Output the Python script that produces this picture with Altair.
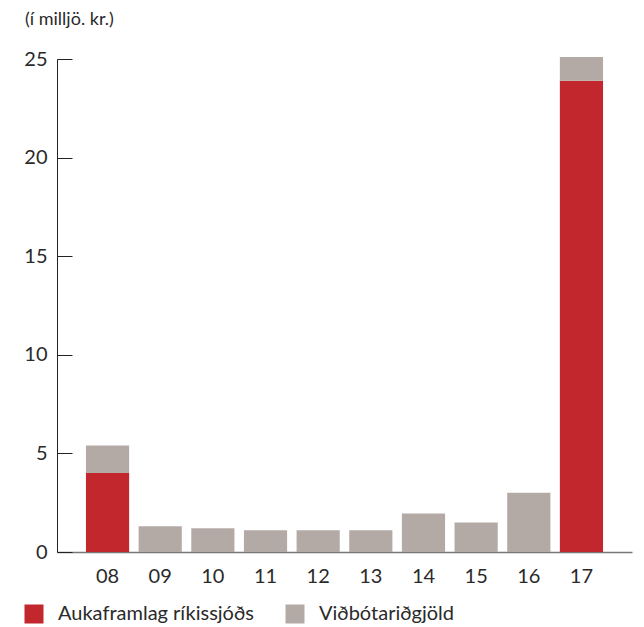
import altair as alt
import pandas as pd

years = ["08", "09", "10", "11", "12", "13", "14", "15", "16", "17"]
red_vals = [4.0, 0, 0, 0, 0, 0, 0, 0, 0, 23.9]
grey_vals = [1.4, 1.3, 1.2, 1.1, 1.1, 1.1, 1.95, 1.5, 3.0, 1.2]
series = ["Aukaframlag ríkissjóðs", "Viðbótariðgjöld"]
colors = ["#c1272d", "#b4aaa5"]
unit_label = "(í milljö. kr.)"

rows = []
for y, r, g in zip(years, red_vals, grey_vals):
    rows.append({"ar": y, "flokkur": series[0], "gildi": r, "rod": 0})
    rows.append({"ar": y, "flokkur": series[1], "gildi": g, "rod": 1})
df = pd.DataFrame(rows)

FONT = "Lato"
TXT = "#2a2a2a"

bars = alt.Chart(df).mark_bar().encode(
    x=alt.X("ar:N", sort=years, title=None,
            scale=alt.Scale(paddingInner=0.18, paddingOuter=0.55),
            axis=alt.Axis(labelAngle=0, ticks=False, domainColor="#777777",
                          domainWidth=1.5, labelFontSize=20, labelColor=TXT,
                          labelPadding=14, labelFont=FONT)),
    y=alt.Y("sum(gildi):Q", title=None,
            scale=alt.Scale(domain=[0, 25], nice=False),
            axis=alt.Axis(values=[0, 5, 10, 15, 20, 25], grid=False,
                          domainColor="#222222", tickColor="#222222",
                          tickSize={"expr": "-15"}, tickWidth=1, domainWidth=1,
                          labelFontSize=20, labelColor=TXT,
                          labelPadding=25, labelFont=FONT)),
    color=alt.Color("flokkur:N", scale=alt.Scale(domain=series, range=colors),
                    legend=alt.Legend(title=None, orient="none", direction="horizontal",
                                      legendX=-33, legendY=545, symbolType="square",
                                      symbolSize=361, symbolStrokeWidth=0,
                                      labelFontSize=20, labelColor=TXT,
                                      labelFont=FONT, labelOffset=14,
                                      labelLimit=400, columnPadding=31)),
    order=alt.Order("rod:Q", sort="ascending"),
)

unit = alt.Chart(pd.DataFrame({"t": [unit_label]})).mark_text(
    align="left", baseline="alphabetic", fontSize=18, font=FONT, color=TXT
).encode(text="t:N", x=alt.value(-32), y=alt.value(-34))

chart = alt.layer(bars, unit).properties(
    width=575, height=493,
    autosize=alt.AutoSizeParams(type="none"),
    padding={"left": 49, "top": 51, "right": 4, "bottom": 76},
).configure_view(stroke=None)

chart.save("out.html", embed_options={"renderer": "svg", "actions": False})
